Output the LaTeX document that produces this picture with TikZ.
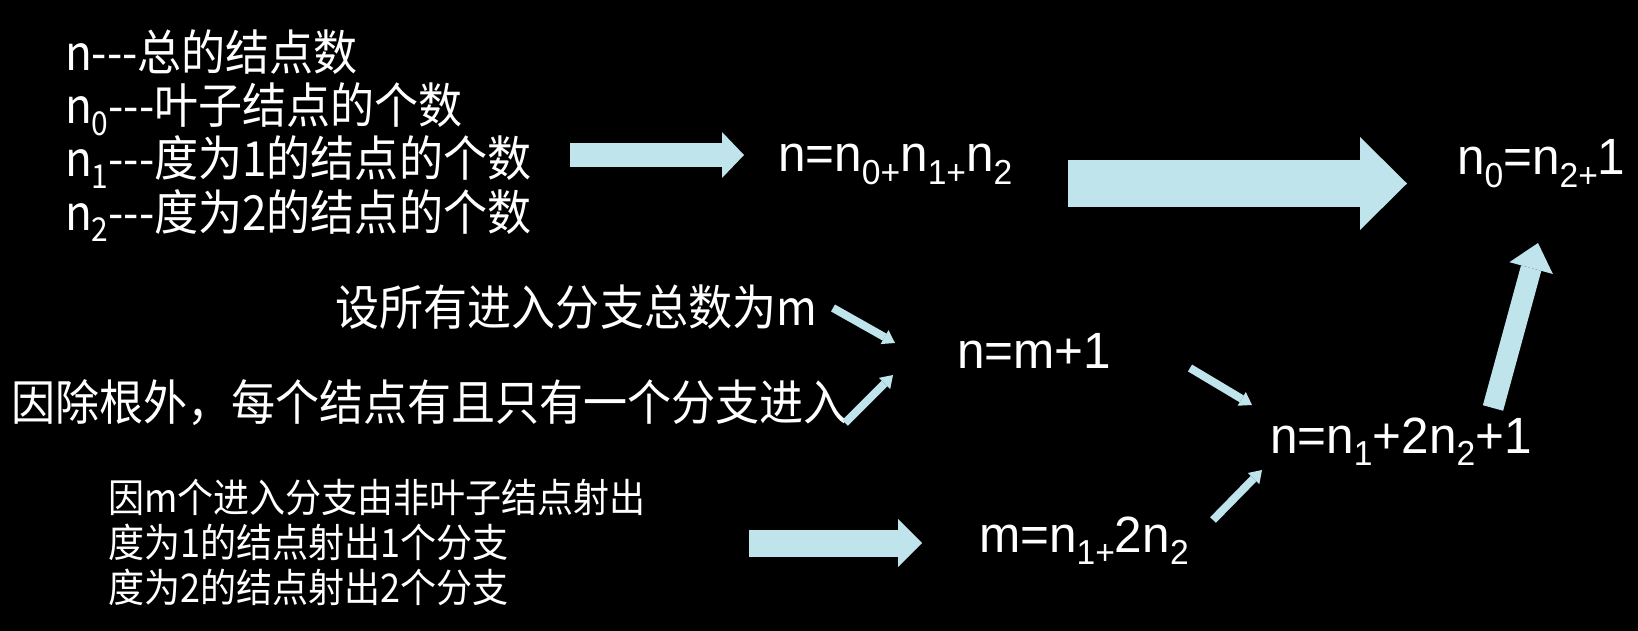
\documentclass[tikz,border=0pt]{standalone}
\usepackage{fontspec}
\usepackage{graphicx}
\usetikzlibrary{arrows.meta}
\setmainfont[FakeStretch=0.97]{Liberation Sans}
\newfontfamily\cjk[FakeStretch=0.91]{Noto Sans CJK SC}
\definecolor{arrowblue}{RGB}{192,228,235}
% lowered, reduced-size index as in the slide's formulas
\newcommand\dsub[1]{\raisebox{-0.24em}{\scalebox{0.68}{#1}}}
\begin{document}
\begin{tikzpicture}[x=1pt,y=-1pt,
  every node/.style={inner sep=0pt,outer sep=0pt,text=white},
  deftext/.style={font=\cjk\fontsize{48.4}{58}\selectfont},
  smalltext/.style={font=\cjk\fontsize{39.6}{48}\selectfont},
  formula/.style={font=\fontsize{51}{60}\selectfont},
  thin/.style={draw=arrowblue,line width=8,-{Triangle[length=12pt,width=16pt,line width=0pt]}},
]
\fill[black] (0,0) rectangle (1638,631);
\useasboundingbox (0,0) rectangle (1638,631);

% definitions of the counts
\node[deftext,anchor=base west] (d1) at (65,71)  {n---总的结点数};
\node[deftext,anchor=base west] (d2) at (65,124) {n\dsub{0}---叶子结点的个数};
\node[deftext,anchor=base west] (d3) at (65,177) {n\dsub{1}---度为1的结点的个数};
\node[deftext,anchor=base west] (d4) at (65,230) {n\dsub{2}---度为2的结点的个数};

% formulas
\node[formula,anchor=base west] (sum)  at (778,172)  {n=n\dsub{0+}n\dsub{1+}n\dsub{2}};
\node[formula,anchor=base west] (res)  at (1457,175) {n\dsub{0}=n\dsub{2+}1};
\node[formula,anchor=base west] (nm)   at (957,368)  {n=m+1};
\node[formula,anchor=base west] (nn)   at (1270,453) {n=n\dsub{1}+2n\dsub{2}+1};
\node[formula,anchor=base west] (mm)   at (979,552)  {m=n\dsub{1+}2n\dsub{2}};

% reasoning lines
\node[deftext,anchor=base east] (setm) at (817,325) {设所有进入分支总数为m};
\node[deftext,anchor=base west] (root) at (11,420)  {因除根外，每个结点有且只有一个分支进入};
\node[smalltext,anchor=base west] (b1) at (108,512) {因m个进入分支由非叶子结点射出};
\node[smalltext,anchor=base west] (b2) at (108,557) {度为1的结点射出1个分支};
\node[smalltext,anchor=base west] (b3) at (108,602) {度为2的结点射出2个分支};

% arrow end points
\coordinate (a1s) at (570,155);   \coordinate (a1e) at (744,155);
\coordinate (a2s) at (1068,183.5);\coordinate (a2e) at (1407,183.5);
\coordinate (a3s) at (749,543);   \coordinate (a3e) at (922,543);
\coordinate (t1s) at (833,308);   \coordinate (t1e) at (895,343);
\coordinate (t2s) at (845,423);   \coordinate (t2e) at (893,375);
\coordinate (t3s) at (1190,368);  \coordinate (t3e) at (1252,405);
\coordinate (t4s) at (1213,520);  \coordinate (t4e) at (1262,470);
\coordinate (ups) at (1493,408);  \coordinate (upe) at (1538,243);

% block arrows
\draw[draw=arrowblue,line width=24,-{Triangle[length=22pt,width=46pt,line width=0pt]}] (a1s) -- (a1e);
\draw[draw=arrowblue,line width=47,-{Triangle[length=47pt,width=93pt,line width=0pt]}] (a2s) -- (a2e);
\draw[draw=arrowblue,line width=27,-{Triangle[length=24pt,width=48pt,line width=0pt]}] (a3s) -- (a3e);
\draw[draw=arrowblue,line width=21,-{Triangle[length=26pt,width=45pt,line width=0pt]}] (ups) -- (upe);

% slim arrows
\draw[thin] (t1s) -- (t1e);
\draw[thin] (t2s) -- (t2e);
\draw[thin] (t3s) -- (t3e);
\draw[thin] (t4s) -- (t4e);
\end{tikzpicture}
\end{document}
